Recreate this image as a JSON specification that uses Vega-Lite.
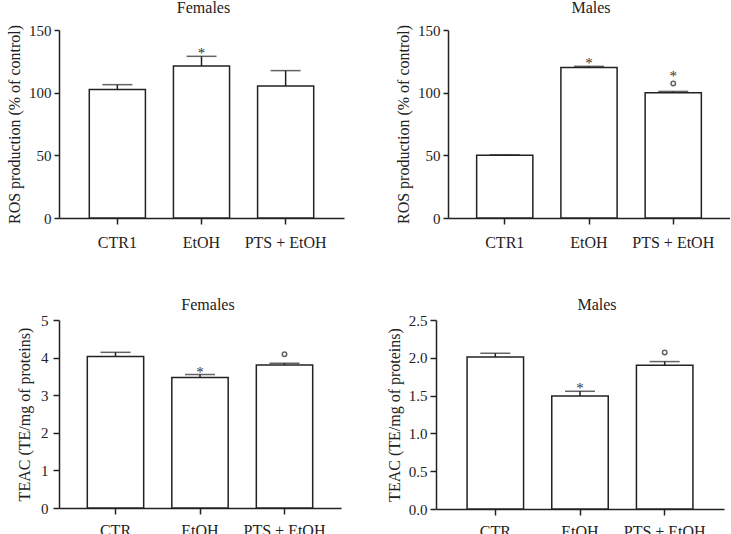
{
  "$schema": "https://vega.github.io/schema/vega-lite/v6.json",
  "padding": {"left": 6, "top": 0, "right": 0, "bottom": 0},
  "background": "white",
  "config": {
    "font": "Liberation Serif",
    "view": {"stroke": null},
    "axis": {
      "domainColor": "#222", "domainWidth": 1.5, "tickColor": "#222", "tickWidth": 1.5,
      "labelColor": "#222", "labelFont": "Liberation Serif", "labelFontSize": 15,
      "titleFont": "Liberation Serif", "titleFontSize": 16, "titleFontWeight": "normal",
      "titleColor": "#222", "grid": false
    },
    "title": {"font": "Liberation Serif", "fontSize": 16, "fontWeight": "normal", "color": "#222", "frame": "group", "offset": 7}
  },
  "spacing": 47,
  "vconcat": [
    {
      "spacing": 51,
      "hconcat": [
        {
          "width": 285, "height": 188,
          "title": {"text": "Females", "dx": 2},
          "data": {"values": [
            {"group": "CTR1", "mean": 102.5, "upper": 106.4, "star": "", "circ": false},
            {"group": "EtOH", "mean": 121.3, "upper": 129, "star": "*", "circ": false},
            {"group": "PTS + EtOH", "mean": 105.3, "upper": 117.6, "star": "", "circ": false}
          ]},
          "encoding": {
            "x": {"field": "group", "type": "nominal", "sort": null, "scale": {"paddingInner": 0.333, "paddingOuter": 0.36},
                  "axis": {"labelAngle": 0, "title": null, "labelFontSize": 16, "labelPadding": 10, "tickSize": 6}}
          },
          "layer": [
            {"mark": {"type": "bar", "fill": "white", "stroke": "#222", "strokeWidth": 1.5},
             "encoding": {"y": {"field": "mean", "type": "quantitative", "scale": {"domain": [0, 150], "nice": false},
               "axis": {"values": [0, 50, 100, 150], "title": "ROS production (% of control)", "tickSize": 5, "labelPadding": 3, "titlePadding": 6}}}},
            {"mark": {"type": "rule", "stroke": "#222", "strokeWidth": 1.5},
             "encoding": {"y": {"field": "mean", "type": "quantitative", "scale": {"domain": [0, 150], "nice": false},
               "axis": {"values": [0, 50, 100, 150], "title": "ROS production (% of control)", "tickSize": 5, "labelPadding": 3, "titlePadding": 6}}, "y2": {"field": "upper"}}},
            {"mark": {"type": "tick", "color": "#222", "size": 30, "thickness": 1.5},
             "encoding": {"y": {"field": "upper", "type": "quantitative", "scale": {"domain": [0, 150], "nice": false},
               "axis": {"values": [0, 50, 100, 150], "title": "ROS production (% of control)", "tickSize": 5, "labelPadding": 3, "titlePadding": 6}}}},
            {"transform": [{"filter": "datum.star == '*'"}],
             "mark": {"type": "text", "baseline": "alphabetic", "fontSize": 15, "color": "#333", "dy": 2},
             "encoding": {"y": {"field": "upper", "type": "quantitative", "scale": {"domain": [0, 150], "nice": false},
               "axis": {"values": [0, 50, 100, 150], "title": "ROS production (% of control)", "tickSize": 5, "labelPadding": 3, "titlePadding": 6}}, "text": {"field": "star"}}}
          ]
        },
        {
          "width": 282, "height": 188,
          "title": {"text": "Males", "dx": 2},
          "data": {"values": [
            {"group": "CTR1", "mean": 50, "upper": 50.4, "star": "", "circ": false},
            {"group": "EtOH", "mean": 120, "upper": 121, "star": "*", "circ": false},
            {"group": "PTS + EtOH", "mean": 100, "upper": 101, "star": "*", "circ": true}
          ]},
          "encoding": {
            "x": {"field": "group", "type": "nominal", "sort": null, "scale": {"paddingInner": 0.333, "paddingOuter": 0.34},
                  "axis": {"labelAngle": 0, "title": null, "labelFontSize": 16, "labelPadding": 10, "tickSize": 6}}
          },
          "layer": [
            {"mark": {"type": "bar", "fill": "white", "stroke": "#222", "strokeWidth": 1.5},
             "encoding": {"y": {"field": "mean", "type": "quantitative", "scale": {"domain": [0, 150], "nice": false},
               "axis": {"values": [0, 50, 100, 150], "title": "ROS production (% of control)", "tickSize": 5, "labelPadding": 3, "titlePadding": 6}}}},
            {"mark": {"type": "rule", "stroke": "#222", "strokeWidth": 1.5},
             "encoding": {"y": {"field": "mean", "type": "quantitative", "scale": {"domain": [0, 150], "nice": false},
               "axis": {"values": [0, 50, 100, 150], "title": "ROS production (% of control)", "tickSize": 5, "labelPadding": 3, "titlePadding": 6}}, "y2": {"field": "upper"}}},
            {"mark": {"type": "tick", "color": "#222", "size": 30, "thickness": 1.5},
             "encoding": {"y": {"field": "upper", "type": "quantitative", "scale": {"domain": [0, 150], "nice": false},
               "axis": {"values": [0, 50, 100, 150], "title": "ROS production (% of control)", "tickSize": 5, "labelPadding": 3, "titlePadding": 6}}}},
            {"transform": [{"filter": "datum.star == '*' && !datum.circ"}],
             "mark": {"type": "text", "baseline": "alphabetic", "fontSize": 15, "color": "#333", "dy": 2},
             "encoding": {"y": {"field": "upper", "type": "quantitative", "scale": {"domain": [0, 150], "nice": false},
               "axis": {"values": [0, 50, 100, 150], "title": "ROS production (% of control)", "tickSize": 5, "labelPadding": 3, "titlePadding": 6}}, "text": {"field": "star"}}},
            {"transform": [{"filter": "datum.star == '*' && datum.circ"}],
             "mark": {"type": "text", "baseline": "alphabetic", "fontSize": 15, "color": "#333", "dy": -10},
             "encoding": {"y": {"field": "upper", "type": "quantitative", "scale": {"domain": [0, 150], "nice": false},
               "axis": {"values": [0, 50, 100, 150], "title": "ROS production (% of control)", "tickSize": 5, "labelPadding": 3, "titlePadding": 6}}, "text": {"field": "star"}}},
            {"transform": [{"filter": "datum.circ"}],
             "mark": {"type": "point", "shape": "circle", "filled": false, "stroke": "#222", "strokeWidth": 1.5, "size": 20, "yOffset": -8},
             "encoding": {"y": {"field": "upper", "type": "quantitative", "scale": {"domain": [0, 150], "nice": false},
               "axis": {"values": [0, 50, 100, 150], "title": "ROS production (% of control)", "tickSize": 5, "labelPadding": 3, "titlePadding": 6}}}}
          ]
        }
      ]
    },
    {
      "spacing": 45,
      "hconcat": [
        {
          "width": 282, "height": 188,
          "title": {"text": "Females", "dx": 8, "offset": 0},
          "data": {"values": [
            {"group": "CTR", "mean": 4.03, "upper": 4.14, "star": "", "circ": false},
            {"group": "EtOH", "mean": 3.47, "upper": 3.55, "star": "*", "circ": false},
            {"group": "PTS + EtOH", "mean": 3.8, "upper": 3.85, "star": "", "circ": true}
          ]},
          "encoding": {
            "x": {"field": "group", "type": "nominal", "sort": null, "scale": {"paddingInner": 0.333, "paddingOuter": 0.335},
                  "axis": {"labelAngle": 0, "title": null, "labelFontSize": 16, "labelPadding": 8, "tickSize": 6}}
          },
          "layer": [
            {"mark": {"type": "bar", "fill": "white", "stroke": "#222", "strokeWidth": 1.5},
             "encoding": {"y": {"field": "mean", "type": "quantitative", "scale": {"domain": [0, 5], "nice": false},
               "axis": {"values": [0, 1, 2, 3, 4, 5], "title": "TEAC (TE/mg of proteins)", "tickSize": 6, "labelPadding": 5, "titlePadding": 8}}}},
            {"mark": {"type": "rule", "stroke": "#222", "strokeWidth": 1.5},
             "encoding": {"y": {"field": "mean", "type": "quantitative", "scale": {"domain": [0, 5], "nice": false},
               "axis": {"values": [0, 1, 2, 3, 4, 5], "title": "TEAC (TE/mg of proteins)", "tickSize": 6, "labelPadding": 5, "titlePadding": 8}}, "y2": {"field": "upper"}}},
            {"mark": {"type": "tick", "color": "#222", "size": 30, "thickness": 1.5},
             "encoding": {"y": {"field": "upper", "type": "quantitative", "scale": {"domain": [0, 5], "nice": false},
               "axis": {"values": [0, 1, 2, 3, 4, 5], "title": "TEAC (TE/mg of proteins)", "tickSize": 6, "labelPadding": 5, "titlePadding": 8}}}},
            {"transform": [{"filter": "datum.star == '*'"}],
             "mark": {"type": "text", "baseline": "alphabetic", "fontSize": 15, "color": "#333", "dy": 2},
             "encoding": {"y": {"field": "upper", "type": "quantitative", "scale": {"domain": [0, 5], "nice": false},
               "axis": {"values": [0, 1, 2, 3, 4, 5], "title": "TEAC (TE/mg of proteins)", "tickSize": 6, "labelPadding": 5, "titlePadding": 8}}, "text": {"field": "star"}}},
            {"transform": [{"filter": "datum.circ"}],
             "mark": {"type": "point", "shape": "circle", "filled": false, "stroke": "#222", "strokeWidth": 1.5, "size": 20, "yOffset": -9},
             "encoding": {"y": {"field": "upper", "type": "quantitative", "scale": {"domain": [0, 5], "nice": false},
               "axis": {"values": [0, 1, 2, 3, 4, 5], "title": "TEAC (TE/mg of proteins)", "tickSize": 6, "labelPadding": 5, "titlePadding": 8}}}}
          ]
        },
        {
          "width": 288, "height": 189,
          "title": {"text": "Males", "dx": 17, "offset": 0},
          "data": {"values": [
            {"group": "CTR", "mean": 2.01, "upper": 2.06, "star": "", "circ": false},
            {"group": "EtOH", "mean": 1.495, "upper": 1.557, "star": "*", "circ": false},
            {"group": "PTS + EtOH", "mean": 1.9, "upper": 1.95, "star": "", "circ": true}
          ]},
          "encoding": {
            "x": {"field": "group", "type": "nominal", "sort": null, "scale": {"paddingInner": 0.333, "paddingOuter": 0.367},
                  "axis": {"labelAngle": 0, "title": null, "labelFontSize": 16, "labelPadding": 8, "tickSize": 6}}
          },
          "layer": [
            {"mark": {"type": "bar", "fill": "white", "stroke": "#222", "strokeWidth": 1.5},
             "encoding": {"y": {"field": "mean", "type": "quantitative", "scale": {"domain": [0, 2.5], "nice": false},
               "axis": {"values": [0, 0.5, 1, 1.5, 2, 2.5], "format": ".1f", "title": "TEAC (TE/mg of proteins)", "tickSize": 6, "labelPadding": 3, "titlePadding": 6}}}},
            {"mark": {"type": "rule", "stroke": "#222", "strokeWidth": 1.5},
             "encoding": {"y": {"field": "mean", "type": "quantitative", "scale": {"domain": [0, 2.5], "nice": false},
               "axis": {"values": [0, 0.5, 1, 1.5, 2, 2.5], "format": ".1f", "title": "TEAC (TE/mg of proteins)", "tickSize": 6, "labelPadding": 3, "titlePadding": 6}}, "y2": {"field": "upper"}}},
            {"mark": {"type": "tick", "color": "#222", "size": 30, "thickness": 1.5},
             "encoding": {"y": {"field": "upper", "type": "quantitative", "scale": {"domain": [0, 2.5], "nice": false},
               "axis": {"values": [0, 0.5, 1, 1.5, 2, 2.5], "format": ".1f", "title": "TEAC (TE/mg of proteins)", "tickSize": 6, "labelPadding": 3, "titlePadding": 6}}}},
            {"transform": [{"filter": "datum.star == '*'"}],
             "mark": {"type": "text", "baseline": "alphabetic", "fontSize": 15, "color": "#333", "dy": 2},
             "encoding": {"y": {"field": "upper", "type": "quantitative", "scale": {"domain": [0, 2.5], "nice": false},
               "axis": {"values": [0, 0.5, 1, 1.5, 2, 2.5], "format": ".1f", "title": "TEAC (TE/mg of proteins)", "tickSize": 6, "labelPadding": 3, "titlePadding": 6}}, "text": {"field": "star"}}},
            {"transform": [{"filter": "datum.circ"}],
             "mark": {"type": "point", "shape": "circle", "filled": false, "stroke": "#222", "strokeWidth": 1.5, "size": 20, "yOffset": -9},
             "encoding": {"y": {"field": "upper", "type": "quantitative", "scale": {"domain": [0, 2.5], "nice": false},
               "axis": {"values": [0, 0.5, 1, 1.5, 2, 2.5], "format": ".1f", "title": "TEAC (TE/mg of proteins)", "tickSize": 6, "labelPadding": 3, "titlePadding": 6}}}}
          ]
        }
      ]
    }
  ]
}
